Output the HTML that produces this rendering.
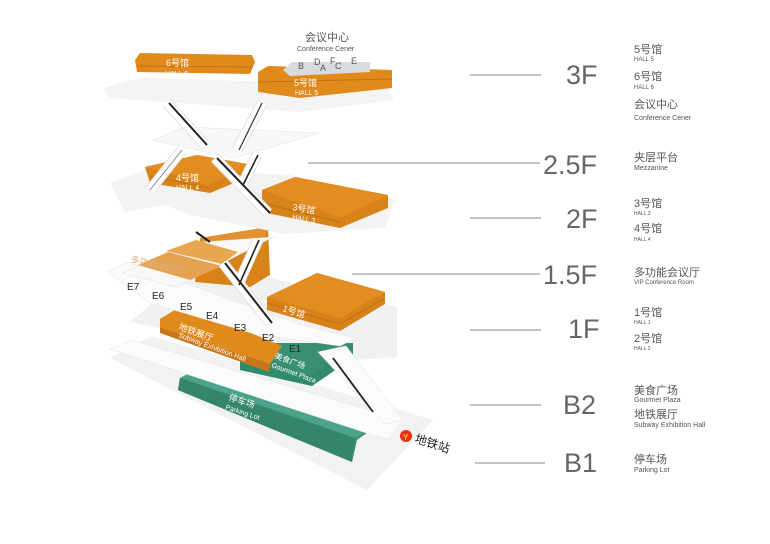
<!DOCTYPE html>
<html><head><meta charset="utf-8"><style>
html,body{margin:0;padding:0;background:#fff;}
svg{display:block;}
.lbl{font-family:"Liberation Sans","Noto Sans CJK SC",sans-serif;fill:#555;}
.fl{font-family:"Liberation Sans",sans-serif;fill:#666;font-size:27px;}
.w{font-family:"Liberation Sans","Noto Sans CJK SC",sans-serif;fill:#fff;}
.e{font-family:"Liberation Sans",sans-serif;fill:#222;font-size:10px;}
</style></head><body>
<svg width="770" height="544" viewBox="0 0 770 544" xmlns="http://www.w3.org/2000/svg">
<polygon points="110,358 152,336 433,420 367,490" fill="#f2f2f2"/>
<polygon points="180,378 203,366 390,416 357,440 352,462 178,390" fill="#3a8f74"/>
<polygon points="180,378 203,366 390,416 355,438" fill="#4ba38a"/>
<polygon points="178,390 180,378 355,438 352,462" fill="#35846c"/>
<text class="w" font-size="9" transform="translate(228,400) rotate(18)">停车场</text>
<text class="w" font-size="7" transform="translate(225,409) rotate(18)">Parking Lot</text>
<polygon points="130,322 200,262 397,307 397,357 330,362" fill="#f1f1f1"/>
<polygon points="110,349 132,340 403,420 388,440" fill="#fbfbfb" stroke="#e6e6e6" stroke-width="0.6"/>
<polygon points="240,362 255,343 353,343 353,358 312,386 240,370" fill="#2f8a6e"/>
<polygon points="240,362 255,343 353,343 310,377" fill="#3a8f73"/>
<polygon points="160,319 183,305 282,346 270,364 160,327" fill="#e08a1c"/>
<polygon points="160,327 270,364 269,372 160,333" fill="#c9761a"/>
<text class="w" font-size="9" transform="translate(178,329) rotate(20)">地铁展厅</text>
<text class="w" font-size="7" transform="translate(178,337) rotate(20)">Subway Exhibition Hall</text>
<text class="w" font-size="8" transform="translate(274,358) rotate(20)">美食广场</text>
<text class="w" font-size="7" transform="translate(271,367) rotate(20)">Gourmet Plaza</text>
<polygon points="318,352 346,346 403,420 385,424" fill="#fbfbfb" stroke="#e6e6e6" stroke-width="0.6"/>
<line x1="333" y1="358" x2="373" y2="412" stroke="#222" stroke-width="1.8"/>
<polygon points="108,272 128,262 300,325 356,338 340,346 255,334 150,303" fill="#fbfbfb" stroke="#e8e8e8" stroke-width="0.6"/>
<circle cx="406" cy="436" r="6" fill="#e8301c"/>
<text x="403" y="440" font-family="Liberation Sans" font-size="8" fill="#f7c31a" font-weight="bold">Y</text>
<text font-family="Liberation Sans,Noto Sans CJK SC,sans-serif" font-size="12" fill="#222" transform="translate(414,442) rotate(18)">地铁站</text>
<polygon points="267,297 317,273 385,292 385,304 340,331 267,310" fill="#d8821a"/>
<polygon points="267,297 317,273 385,292 340,318" fill="#e38c22"/>
<line x1="267" y1="303" x2="340" y2="324" stroke="#b96a14" stroke-width="0.8"/>
<line x1="340" y1="324" x2="385" y2="298" stroke="#b96a14" stroke-width="0.8"/>
<text class="w" font-size="9" transform="translate(282,311) rotate(18)">1号馆</text>
<text class="w" font-size="7" transform="translate(282,321) rotate(18)">HALL 1</text>
<polygon points="200,238 268,227 270,275 250,287 195,282" fill="#d8821a"/>
<polygon points="200,238 268,227 262,250 205,258" fill="#e39030"/>
<polygon points="122,273 190,243 273,237 177,287" fill="#f9f9f9" stroke="#e4e4e4" stroke-width="0.6"/>
<polygon points="138,265 168,252 222,266 190,280" fill="#e6a24e"/>
<polygon points="166,251 196,240 238,252 222,264" fill="#e8a650"/>
<text font-family="Liberation Sans,Noto Sans CJK SC,sans-serif" font-size="9" fill="#d9b088" transform="translate(130,262) rotate(12)">多功能会议厅</text>
<polygon points="110,183 150,168 290,175 395,200 385,228 285,234 190,215 165,205 125,212" fill="#f3f3f3"/>
<polygon points="145,167 197,155 253,165 253,175 210,193 150,183" fill="#d8821a"/>
<polygon points="145,167 197,155 253,165 208,185" fill="#e38c22"/>
<line x1="150" y1="176" x2="208" y2="188" stroke="#b96a14" stroke-width="0.8"/>
<text class="w" font-size="9" x="176" y="181">4号馆</text>
<text class="w" font-size="7" x="176" y="190">HALL 4</text>
<polygon points="262,190 295,177 388,195 388,208 340,228 262,212" fill="#d8821a"/>
<polygon points="262,190 295,177 388,195 340,218" fill="#e38c22"/>
<line x1="262" y1="203" x2="340" y2="222" stroke="#b96a14" stroke-width="0.8"/>
<text class="w" font-size="9" transform="translate(292,210) rotate(10)">3号馆</text>
<text class="w" font-size="7" transform="translate(292,219) rotate(10)">HALL 3</text>
<polygon points="153,140 185,127 320,133 233,158" fill="#f8f8f8" stroke="#e4e4e4" stroke-width="0.6"/>
<polygon points="103,88 140,78 385,85 395,100 300,112 110,98" fill="#f4f4f4"/>
<polygon points="135,60 140,53 252,55 255,62 250,74 137,72" fill="#e08a1c"/>
<line x1="137" y1="66" x2="252" y2="67" stroke="#b96a14" stroke-width="0.8"/>
<text class="w" font-size="9" x="166" y="66">6号馆</text>
<text class="w" font-size="7" x="165" y="76">HALL 6</text>
<polygon points="258,72 268,66 392,70 392,88 300,98 258,92" fill="#e08a1c"/>
<line x1="258" y1="82" x2="392" y2="79" stroke="#b96a14" stroke-width="0.8"/>
<polygon points="283,70 292,62 370,62 370,72 290,76" fill="#d9dcde"/>
<text class="w" font-size="9" x="294" y="86">5号馆</text>
<text class="w" font-size="7" x="295" y="95">HALL 5</text>
<text class="lbl" font-size="9" x="298" y="69">B</text>
<text class="lbl" font-size="9" x="314" y="65">D</text>
<text class="lbl" font-size="9" x="320" y="71">A</text>
<text class="lbl" font-size="9" x="330" y="64">F</text>
<text class="lbl" font-size="9" x="335" y="69">C</text>
<text class="lbl" font-size="9" x="351" y="64">E</text>
<text class="lbl" font-size="11" x="305" y="41">会议中心</text>
<text class="lbl" font-size="7" x="297" y="51">Conference Cener</text>
<g stroke-linecap="butt">
<g stroke="#e2e2e2" stroke-width="11">
<line x1="167" y1="103" x2="205" y2="145"/><line x1="262" y1="103" x2="237" y2="150"/>
<line x1="215" y1="158" x2="268" y2="213"/><line x1="182" y1="150" x2="150" y2="190"/>
<line x1="257" y1="155" x2="242" y2="185"/><line x1="223" y1="263" x2="270" y2="323"/>
<line x1="258" y1="240" x2="238" y2="285"/>
</g>
<g stroke="#fff" stroke-width="9">
<line x1="167" y1="103" x2="205" y2="145"/><line x1="262" y1="103" x2="237" y2="150"/>
<line x1="215" y1="158" x2="268" y2="213"/><line x1="182" y1="150" x2="150" y2="190"/>
<line x1="257" y1="155" x2="242" y2="185"/><line x1="223" y1="263" x2="270" y2="323"/>
<line x1="258" y1="240" x2="238" y2="285"/>
</g>
<line x1="169" y1="103" x2="207" y2="145" stroke="#222" stroke-width="2"/>
<line x1="262" y1="103" x2="239" y2="150" stroke="#333" stroke-width="1.2"/>
<line x1="217" y1="158" x2="270" y2="213" stroke="#222" stroke-width="2"/>
<line x1="182" y1="150" x2="150" y2="190" stroke="#777" stroke-width="0.8"/>
<line x1="258" y1="155" x2="243" y2="185" stroke="#222" stroke-width="1.6"/>
<line x1="225" y1="263" x2="272" y2="323" stroke="#222" stroke-width="2"/>
<line x1="259" y1="240" x2="239" y2="285" stroke="#222" stroke-width="1.6"/>
<line x1="196" y1="232" x2="210" y2="242" stroke="#222" stroke-width="2"/>
</g>
<text class="e" x="127" y="290">E7</text>
<text class="e" x="152" y="299">E6</text>
<text class="e" x="180" y="310">E5</text>
<text class="e" x="206" y="319">E4</text>
<text class="e" x="234" y="331">E3</text>
<text class="e" x="262" y="341">E2</text>
<text class="e" x="289" y="352">E1</text>
<g stroke="#8a8a8a" stroke-width="1">
<line x1="470" y1="75" x2="541" y2="75"/>
<line x1="308" y1="163" x2="540" y2="163"/>
<line x1="470" y1="218" x2="541" y2="218"/>
<line x1="352" y1="274" x2="540" y2="274"/>
<line x1="470" y1="330" x2="541" y2="330"/>
<line x1="470" y1="405" x2="541" y2="405"/>
<line x1="475" y1="463" x2="545" y2="463"/>
</g>
<text class="fl" x="566" y="84">3F</text>
<text class="fl" x="543" y="174">2.5F</text>
<text class="fl" x="566" y="228">2F</text>
<text class="fl" x="543" y="284">1.5F</text>
<text class="fl" x="568" y="338">1F</text>
<text class="fl" x="563" y="414">B2</text>
<text class="fl" x="564" y="472">B1</text>
<g class="lbl">
<text font-size="11" x="634" y="53">5号馆</text><text font-size="6" x="634" y="61">HALL 5</text>
<text font-size="11" x="634" y="80">6号馆</text><text font-size="6" x="634" y="89">HALL 6</text>
<text font-size="11" x="634" y="108">会议中心</text><text font-size="7" x="634" y="120">Conference Cener</text>
<text font-size="11" x="634" y="161">夹层平台</text><text font-size="7" x="634" y="170">Mezzanine</text>
<text font-size="11" x="634" y="207">3号馆</text><text font-size="5" x="634" y="215">HALL 3</text>
<text font-size="11" x="634" y="232">4号馆</text><text font-size="5" x="634" y="241">HALL 4</text>
<text font-size="11" x="634" y="276">多功能会议厅</text><text font-size="6" x="634" y="284">VIP Conference Room</text>
<text font-size="11" x="634" y="316">1号馆</text><text font-size="5" x="634" y="324">HALL 1</text>
<text font-size="11" x="634" y="342">2号馆</text><text font-size="5" x="634" y="350">HALL 2</text>
<text font-size="11" x="634" y="394">美食广场</text><text font-size="7" x="634" y="402">Gourmet Plaza</text>
<text font-size="11" x="634" y="418">地铁展厅</text><text font-size="7" x="634" y="427">Subway Exhibition Hall</text>
<text font-size="11" x="634" y="463">停车场</text><text font-size="7" x="634" y="472">Parking Lot</text>
</g>
</svg>
</body></html>
